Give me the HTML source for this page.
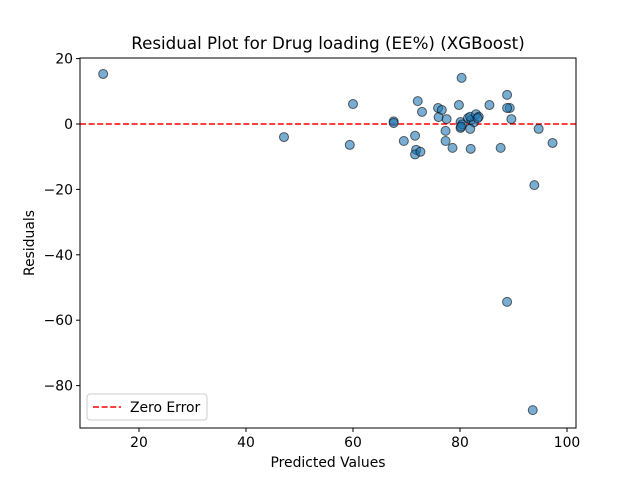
<!DOCTYPE html>
<html><head><meta charset="utf-8"><style>body{margin:0;background:#fff}svg{display:block;font-family:"DejaVu Sans","Liberation Sans",sans-serif}</style></head>
<body>
<svg id="chart" width="640" height="480">
<rect x="0" y="0" width="640" height="480" fill="#fff"/>
<text x="328" y="49" text-anchor="middle" font-size="16.7">Residual Plot for Drug loading (EE%) (XGBoost)</text>
<g id="ticks"></g>
<line id="zero" stroke="#ff0000" stroke-width="1.6" stroke-dasharray="6,2.6"/>
<g id="pts"></g>
<rect x="80" y="58" width="496" height="370" fill="none" stroke="#000" stroke-width="1"/>
<text x="328" y="467" text-anchor="middle" font-size="13.9">Predicted Values</text>
<text x="34" y="243" text-anchor="middle" font-size="13.9" transform="rotate(-90 34 243)">Residuals</text>
<g>
<rect x="87" y="394" width="120" height="26" rx="3" fill="#fff" stroke="#ccc"/>
<line x1="93" y1="407" x2="121" y2="407" stroke="#ff0000" stroke-width="1.6" stroke-dasharray="6,2.6"/>
<text x="130" y="412" font-size="13.9">Zero Error</text>
</g>
</svg>
<script>
const predicted = [13.3,47.1,59.4,60,67.6,67.6,69.5,72.1,72.9,71.6,71.8,71.6,72.6,75.9,76.6,76,77.5,77.3,77.3,78.6,80.3,79.8,80.1,80.1,80.4,80.2,81.5,82.1,82.6,81.9,81.9,82.0,83,83.5,83.3,85.5,88.8,89.3,88.8,89.6,87.6,94.7,97.3,93.9,88.8,93.6];
const residuals = [15.3,-4,-6.4,6.1,0.8,0.3,-5.2,7,3.7,-3.6,-7.9,-9.3,-8.5,4.9,4.3,2.1,1.5,-2.1,-5.2,-7.3,14.1,5.8,0.6,-1.2,-0.1,-0.8,1.8,1.2,0.5,2.2,-1.5,-7.6,3,2.2,1.8,5.8,8.9,4.9,4.9,1.5,-7.3,-1.5,-5.8,-18.7,-54.4,-87.5];
const xTicks = [20,40,60,80,100];
const yTicks = [20,0,-20,-40,-60,-80];
const X = v => 139 + (v - 20) * 5.35;
const Y = v => 124 - v * 3.27;
const NS = "http://www.w3.org/2000/svg";
const tg = document.getElementById('ticks');
xTicks.forEach(t => {
  const l = document.createElementNS(NS,'line');
  l.setAttribute('x1',X(t));l.setAttribute('x2',X(t));l.setAttribute('y1',428);l.setAttribute('y2',432);l.setAttribute('stroke','#000');
  
  
  tg.appendChild(l);
  const s = document.createElementNS(NS,'text');
  s.setAttribute('x',X(t));s.setAttribute('y',447);s.setAttribute('text-anchor','middle');s.setAttribute('font-size','13.9');s.textContent=t;
  
  
  tg.appendChild(s);
});
yTicks.forEach(t => {
  const l = document.createElementNS(NS,'line');
  l.setAttribute('x1',76);l.setAttribute('x2',80);l.setAttribute('y1',Y(t));l.setAttribute('y2',Y(t));l.setAttribute('stroke','#000');
  
  
  tg.appendChild(l);
  const s = document.createElementNS(NS,'text');
  s.setAttribute('x',73);s.setAttribute('y',Y(t)+5);s.setAttribute('text-anchor','end');s.setAttribute('font-size','13.9');s.textContent=(t<0?'\u2212'+(-t):t);
  
  
  tg.appendChild(s);
});
const z = document.getElementById('zero');
z.setAttribute('x1',80);z.setAttribute('x2',576);z.setAttribute('y1',Y(0));z.setAttribute('y2',Y(0));
const pg = document.getElementById('pts');
predicted.forEach((p,i) => {
  const c = document.createElementNS(NS,'circle');
  c.setAttribute('cx',X(p));c.setAttribute('cy',Y(residuals[i]));c.setAttribute('r',4.5);
  c.setAttribute('fill','rgba(31,119,180,0.6)');c.setAttribute('stroke','#000');c.setAttribute('stroke-opacity','0.6');
  
  
  pg.appendChild(c);
});
</script>
</body></html>
